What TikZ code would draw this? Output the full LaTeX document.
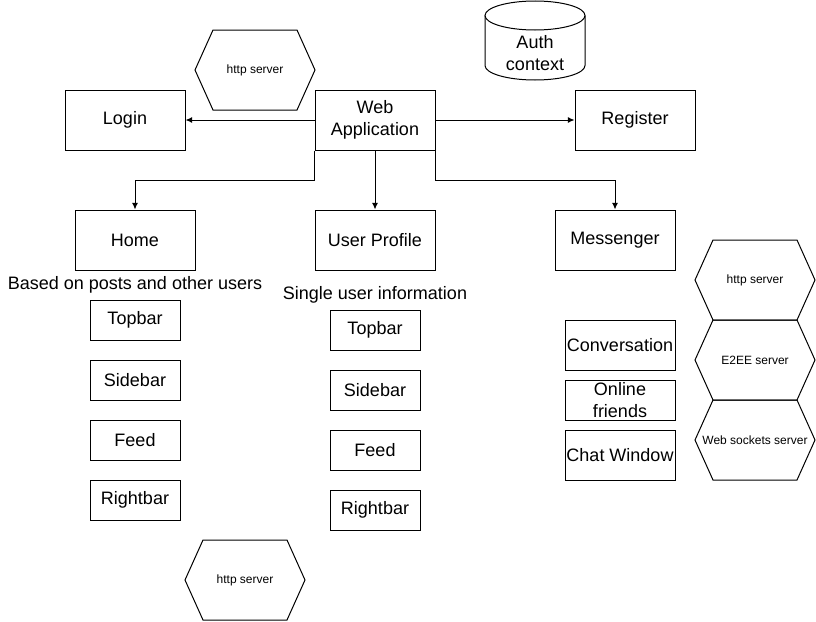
\documentclass[tikz,border=0pt]{standalone}
\usepackage{fontspec}
\setmainfont{Liberation Sans}
\usetikzlibrary{arrows.meta}

\begin{document}
\begin{tikzpicture}[x=0.75pt, y=-0.75pt, line width=0.75pt,
  box/.style = {draw, minimum width=90pt, minimum height=45pt, align=center,
    inner sep=0pt, font=\fontsize{13.5}{16.5}\selectfont},
  item/.style = {draw, minimum width=67.5pt, minimum height=30pt, align=center,
    inner sep=0pt, font=\fontsize{13.5}{16.5}\selectfont},
  chat/.style = {item, minimum width=82.5pt},
  note/.style = {inner sep=0pt, font=\fontsize{13.5}{16.5}\selectfont},
  hexlabel/.style = {inner sep=0pt, font=\fontsize{9}{11}\selectfont},
  arr/.style = {-{Latex[length=5pt, width=4.5pt]}}]
\useasboundingbox (0, 0) rectangle (816, 621);
% auth store
\draw (485, 15.5) -- (485, 65.5) arc [start angle=180, end angle=0, x radius=50, y radius=14.5]
  -- (585, 15.5);
\draw (535, 15.5) ellipse [x radius=50, y radius=14.5];
\node[note, align=center] (auth) at (535, 53) {Auth\\context};
% servers
\foreach \cx/\cy/\hname/\htext in {255/70/hexweb/http server, 755/280/hexchat/http server,
  755/360/hexeee/E2EE server, 755/440/hexsock/Web sockets server, 245/580/hexhome/http server}{
  \draw (\cx-60, \cy) -- (\cx-42, \cy-40) -- (\cx+42, \cy-40) -- (\cx+60, \cy)
    -- (\cx+42, \cy+40) -- (\cx-42, \cy+40) -- cycle;
  \node[hexlabel] (\hname) at (\cx, \cy) {\htext};
}
% top row
\node[box] (web) at (375, 120) {Web\\Application};
\node[box] (login) at (125, 120) {Login};
\node[box] (register) at (635, 120) {Register};
\draw[arr] (web.west) -- (login.east);
\draw[arr] (web.east) -- (register.west);
% pages
\node[box] (home) at (135, 240) {Home};
\node[box] (profile) at (375, 240) {User Profile};
\node[box] (messenger) at (615, 240) {Messenger};
\draw[arr] (web.south west) -- ++(0, 30) -| (home.north);
\draw[arr] (web.south) -- (profile.north);
\draw[arr] (web.south east) -- ++(0, 30) -| (messenger.north);
\node[note] (homenote) at (135, 285) {Based on posts and other users};
\node[note] (profilenote) at (375, 295) {Single user information};
% home parts
\node[item] (htop) at (135, 320) {Topbar};
\node[item] (hside) at (135, 380) {Sidebar};
\node[item] (hfeed) at (135, 440) {Feed};
\node[item] (hright) at (135, 500) {Rightbar};
% profile parts
\node[item] (ptop) at (375, 330) {Topbar};
\node[item] (pside) at (375, 390) {Sidebar};
\node[item] (pfeed) at (375, 450) {Feed};
\node[item] (pright) at (375, 510) {Rightbar};
% messenger parts
\node[chat, minimum height=37.5pt] (conv) at (620, 345) {Conversation};
\node[chat] (online) at (620, 400) {Online\\friends};
\node[chat, minimum height=37.5pt] (window) at (620, 455) {Chat Window};
\end{tikzpicture}
\end{document}
